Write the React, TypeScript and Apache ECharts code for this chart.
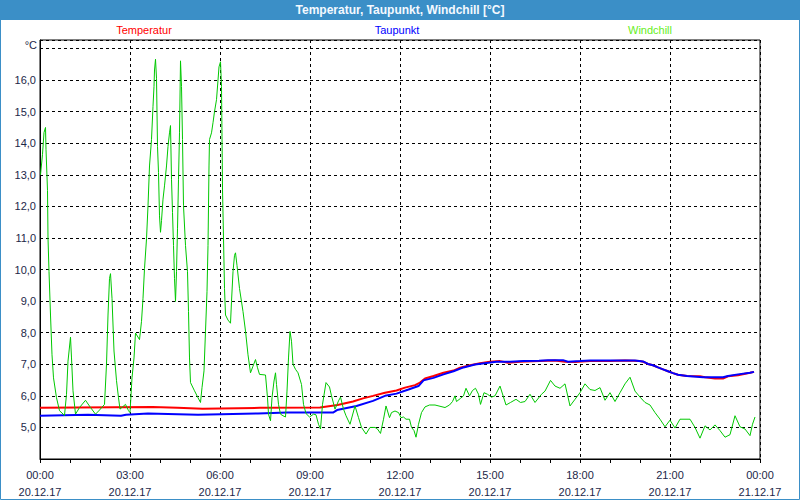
import React, { useEffect, useRef } from "react";
import * as echarts from "echarts";

const chartTitle = "Temperatur, Taupunkt, Windchill [°C]";
const seriesNames = ["Temperatur", "Taupunkt", "Windchill"];
const unitLabel = "°C";

// x labels every 3 hours (minutes since 20.12.17 00:00)
const xLabelTimes = ["00:00", "03:00", "06:00", "09:00", "12:00", "15:00", "18:00", "21:00", "00:00"];
const xLabelDates = ["20.12.17", "20.12.17", "20.12.17", "20.12.17", "20.12.17", "20.12.17", "20.12.17", "20.12.17", "21.12.17"];

const tempTimes = [0, 225, 275, 325, 440, 560, 595, 626, 646, 666, 690, 713, 730, 750, 760, 770, 787, 807, 827, 840, 860, 880, 900, 920, 936, 960, 1000, 1030, 1050, 1070, 1100, 1140, 1170, 1200, 1206, 1216, 1226, 1236, 1246, 1256, 1266, 1276, 1294, 1320, 1330, 1350, 1366, 1376, 1396, 1420, 1428];
const tempValues = [5.62, 5.65, 5.62, 5.59, 5.62, 5.63, 5.71, 5.82, 5.92, 6.0, 6.1, 6.17, 6.26, 6.34, 6.42, 6.55, 6.63, 6.73, 6.8, 6.89, 6.97, 7.03, 7.08, 7.1, 7.05, 7.08, 7.1, 7.12, 7.08, 7.07, 7.1, 7.1, 7.12, 7.1, 7.08, 7.01, 6.97, 6.9, 6.84, 6.78, 6.72, 6.67, 6.63, 6.62, 6.59, 6.55, 6.55, 6.62, 6.65, 6.73, 6.76];

const dewTimes = [0, 96, 162, 172, 216, 316, 436, 494, 586, 594, 633, 666, 690, 713, 737, 757, 767, 787, 807, 827, 847, 870, 893, 913, 940, 967, 998, 1016, 1046, 1056, 1080, 1100, 1190, 1206, 1216, 1226, 1236, 1246, 1256, 1266, 1276, 1294, 1326, 1366, 1376, 1396, 1420, 1428];
const dewValues = [5.37, 5.4, 5.37, 5.4, 5.44, 5.4, 5.44, 5.47, 5.47, 5.55, 5.68, 5.84, 6.0, 6.07, 6.2, 6.31, 6.49, 6.57, 6.68, 6.78, 6.9, 6.99, 7.04, 7.08, 7.08, 7.1, 7.11, 7.13, 7.13, 7.08, 7.1, 7.12, 7.12, 7.09, 7.01, 6.97, 6.9, 6.84, 6.78, 6.72, 6.67, 6.63, 6.59, 6.59, 6.63, 6.68, 6.73, 6.76];

const windTimes = [1, 5, 8, 11, 12, 15, 16, 18, 21, 24, 27, 33, 39, 49, 53, 56, 61, 63, 66, 71, 79, 91, 101, 111, 119, 129, 133, 136, 139, 141, 144, 148, 153, 157, 160, 171, 177, 180, 184, 188, 191, 199, 203, 206, 209, 213, 216, 219, 223, 226, 228, 229, 231, 233, 235, 237, 239, 241, 243, 246, 249, 253, 256, 259, 261, 263, 265, 267, 269, 271, 273, 275, 277, 279, 281, 283, 285, 287, 291, 295, 297, 299, 301, 309, 316, 321, 324, 328, 331, 334, 336, 338, 339, 343, 346, 349, 353, 356, 358, 361, 363, 364, 365, 367, 369, 371, 376, 381, 383, 386, 389, 391, 394, 399, 406, 411, 416, 421, 426, 431, 435, 439, 451, 455, 457, 461, 464, 468, 471, 473, 477, 481, 486, 491, 494, 497, 500, 503, 506, 511, 516, 523, 527, 532, 539, 547, 552, 557, 561, 565, 572, 579, 583, 590, 597, 601, 607, 612, 620, 630, 637, 643, 652, 660, 670, 675, 681, 687, 692, 699, 703, 710, 717, 722, 727, 732, 739, 743, 748, 752, 757, 763, 770, 779, 790, 800, 810, 819, 825, 830, 833, 841, 847, 852, 859, 865, 871, 877, 881, 888, 895, 903, 910, 920, 932, 941, 952, 961, 970, 980, 990, 1003, 1010, 1021, 1030, 1040, 1050, 1060, 1070, 1080, 1090, 1100, 1110, 1120, 1130, 1140, 1150, 1160, 1170, 1180, 1190, 1200, 1210, 1220, 1230, 1240, 1250, 1260, 1270, 1280, 1300, 1310, 1320, 1330, 1340, 1350, 1360, 1370, 1380, 1390, 1400, 1410, 1420, 1425, 1430];
const windValues = [13.0, 13.65, 14.34, 14.5, 13.8, 12.5, 11.0, 9.94, 8.56, 7.3, 6.57, 5.94, 5.53, 5.38, 6.05, 7.1, 7.86, 7.2, 6.16, 5.42, 5.63, 5.86, 5.63, 5.42, 5.55, 5.73, 7.0, 8.56, 9.72, 9.87, 9.09, 7.42, 6.48, 5.94, 5.58, 5.73, 5.53, 5.47, 6.57, 7.2, 7.99, 7.78, 8.36, 9.09, 10.03, 10.97, 12.02, 13.28, 14.12, 15.17, 15.8, 16.32, 16.66, 16.06, 13.9, 13.07, 11.7, 11.18, 11.55, 12.23, 12.65, 13.28, 13.9, 14.33, 14.56, 12.86, 11.81, 10.76, 9.72, 8.99, 9.93, 11.29, 12.86, 14.33, 16.61, 15.8, 14.12, 12.02, 10.76, 9.93, 8.67, 7.2, 6.42, 6.16, 5.94, 5.79, 6.26, 6.79, 8.05, 9.3, 10.76, 13.28, 14.12, 14.33, 14.65, 15.0, 15.38, 16.0, 16.42, 16.58, 15.8, 14.22, 12.55, 11.0, 9.4, 8.56, 8.4, 8.3, 8.99, 9.93, 10.45, 10.53, 10.13, 9.4, 8.67, 8.05, 7.3, 6.73, 6.94, 7.15, 6.89, 6.68, 6.66, 5.94, 5.42, 5.21, 5.94, 6.47, 6.73, 6.36, 5.73, 5.42, 5.37, 5.33, 6.15, 7.2, 8.04, 7.73, 7.0, 6.84, 6.73, 6.36, 5.73, 5.44, 5.33, 5.42, 5.4, 5.1, 4.95, 5.73, 6.42, 6.28, 6.0, 5.58, 5.84, 5.96, 5.58, 5.37, 5.1, 5.68, 5.31, 5.0, 4.79, 5.0, 5.0, 4.95, 4.81, 5.26, 5.68, 5.31, 5.47, 5.52, 5.47, 5.31, 5.33, 5.26, 5.26, 5.0, 4.9, 4.69, 5.1, 5.47, 5.65, 5.71, 5.71, 5.67, 5.63, 5.71, 5.82, 6.0, 5.82, 5.92, 6.0, 6.24, 6.0, 6.17, 6.24, 6.05, 5.73, 6.1, 6.05, 5.96, 6.0, 6.31, 5.71, 5.79, 5.89, 5.79, 5.82, 6.05, 5.79, 6.05, 6.15, 6.49, 6.31, 6.24, 6.38, 5.68, 5.89, 6.1, 6.38, 6.2, 6.17, 6.26, 5.86, 6.1, 5.82, 6.1, 6.38, 6.59, 6.15, 5.96, 5.79, 5.71, 5.47, 5.26, 5.02, 5.23, 4.98, 5.26, 5.26, 5.0, 4.66, 5.05, 4.92, 5.08, 4.9, 4.69, 4.77, 5.37, 5.02, 4.95, 4.74, 5.1, 5.33];

const pairs = (t: number[], v: number[]) => t.map((x, i) => [x, v[i]]);

const FONT = "'Liberation Sans Narrow', 'Liberation Sans', sans-serif";
const LABEL_COLOR = "#1c2748";

export default function App() {
  const ref = useRef<HTMLDivElement>(null);
  useEffect(() => {
    if (!ref.current) return;
    const chart = echarts.init(ref.current, undefined, { renderer: "svg" });
    chart.setOption({
      animation: false,
      backgroundColor: "#ffffff",
      grid: { left: 40, right: 40, top: 40, bottom: 38, show: true, borderColor: "#000", borderWidth: 1, backgroundColor: "transparent" },
      xAxis: [
        {
          type: "value",
          min: 0,
          max: 1440,
          interval: 180,
          axisLine: { show: true, lineStyle: { color: "#000", width: 1 } },
          axisTick: { show: true, length: 4, lineStyle: { color: "#000" } },
          axisLabel: {
            show: true,
            margin: 7,
            fontSize: 11,
            lineHeight: 17,
            fontFamily: FONT,
            color: LABEL_COLOR,
            formatter: (v: number) => {
              const i = Math.round(v / 180);
              return xLabelTimes[i] + "\n" + xLabelDates[i];
            },
          },
          splitLine: { show: true, lineStyle: { color: "#000", type: [3, 3], width: 1 } },
        },
        {
          type: "value",
          min: 0,
          max: 1440,
          interval: 60,
          position: "bottom",
          axisLine: { show: false },
          axisTick: { show: true, length: 4, lineStyle: { color: "#000" } },
          axisLabel: { show: false },
          splitLine: { show: false },
        },
      ],
      yAxis: {
        type: "value",
        min: 4,
        max: 17.27,
        interval: 1,
        axisLine: { show: true, lineStyle: { color: "#000", width: 1 } },
        axisTick: { show: false },
        axisLabel: {
          margin: 4,
          fontSize: 11,
          fontFamily: FONT,
          color: LABEL_COLOR,
          formatter: (v: number) => (v <= 4.01 || v >= 16.99 ? "" : v.toFixed(1).replace(".", ",")),
        },
        splitLine: { show: true, lineStyle: { color: "#000", type: [3, 3], width: 1 } },
      },
      series: [
        {
          name: seriesNames[0],
          type: "line",
          data: pairs(tempTimes, tempValues),
          showSymbol: false,
          lineStyle: { color: "#ff0000", width: 2 },
          z: 2,
        },
        {
          name: seriesNames[1],
          type: "line",
          data: pairs(dewTimes, dewValues),
          showSymbol: false,
          lineStyle: { color: "#0000ff", width: 2 },
          z: 3,
        },
        {
          name: seriesNames[2],
          type: "line",
          data: pairs(windTimes, windValues),
          showSymbol: false,
          lineStyle: { color: "#00c800", width: 1 },
          z: 4,
        },
      ],
      graphic: [
        { type: "rect", shape: { x: 0, y: 0, width: 800, height: 20 }, style: { fill: "#3b8fc7" }, silent: true },
        { type: "rect", shape: { x: 0.5, y: 0.5, width: 799, height: 499 }, style: { fill: "none", stroke: "#3b8fc7", lineWidth: 1 }, silent: true },
        {
          type: "text",
          x: 400,
          y: 10,
          style: { text: chartTitle, fill: "#f4f9ff", font: "bold 12px " + FONT, textAlign: "center", textVerticalAlign: "middle" },
        },
        { type: "text", x: 144, y: 30, style: { text: seriesNames[0], fill: "#ff0000", font: "11px " + FONT, textAlign: "center", textVerticalAlign: "middle" } },
        { type: "text", x: 397, y: 30, style: { text: seriesNames[1], fill: "#0000ff", font: "11px " + FONT, textAlign: "center", textVerticalAlign: "middle" } },
        { type: "text", x: 650, y: 30, style: { text: seriesNames[2], fill: "#66ee22", font: "11px " + FONT, textAlign: "center", textVerticalAlign: "middle" } },
        { type: "text", x: 37, y: 45, style: { text: unitLabel, fill: LABEL_COLOR, font: "11px " + FONT, textAlign: "right", textVerticalAlign: "middle" } },
      ],
    });
    return () => chart.dispose();
  }, []);
  return <div ref={ref} style={{ position: "fixed", left: 0, top: 0, width: 800, height: 500 }} />;
}
